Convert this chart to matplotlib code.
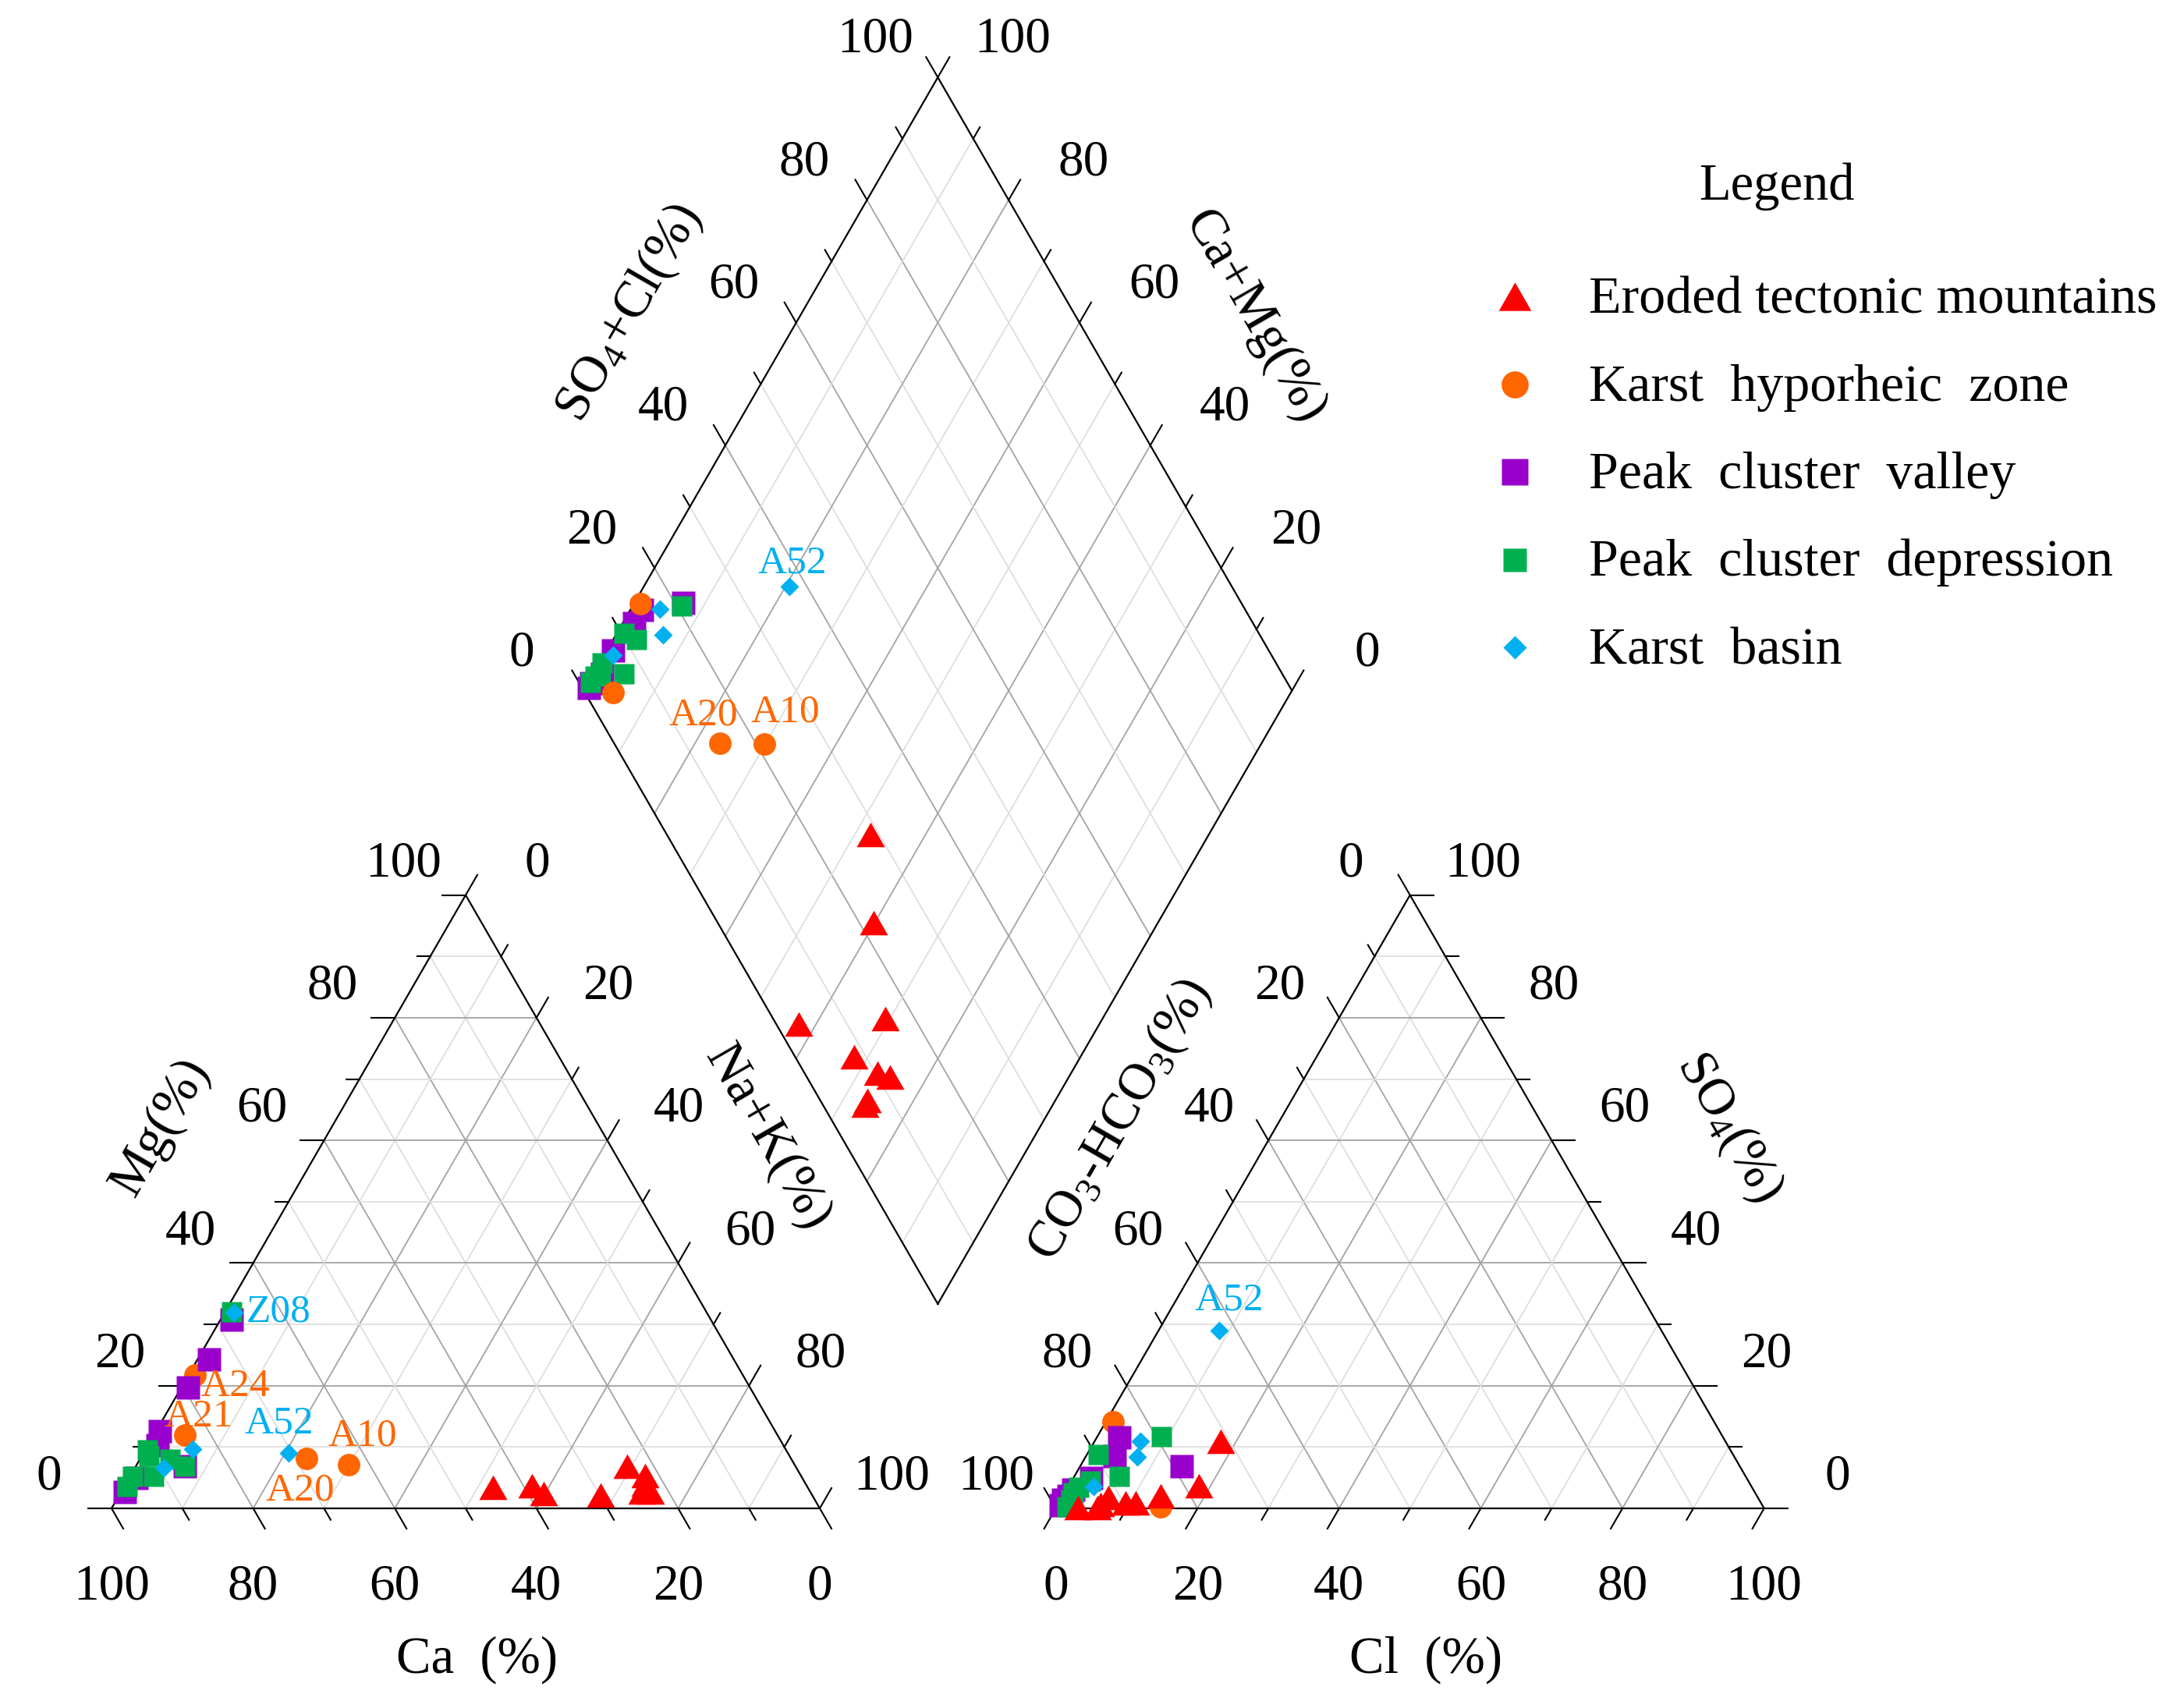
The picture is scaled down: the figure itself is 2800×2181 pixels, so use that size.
import numpy as np
import matplotlib
matplotlib.use("Agg")
import matplotlib.pyplot as plt

plt.rcParams['font.family'] = 'Liberation Serif'
plt.rcParams['mathtext.fontset'] = 'custom'
plt.rcParams['mathtext.rm'] = 'Liberation Serif'
plt.rcParams['mathtext.default'] = 'regular'

# ---- data: % of meq/L (Ca = 100 - Mg - Na+K, HCO3 = 100 - SO4 - Cl) ----
names = ["Eroded tectonic mountains", "Karst  hyporheic  zone", "Peak  cluster  valley",
         "Peak  cluster  depression", "Karst  basin"]

red_mg = [3.4, 2.4, 3.7, 6.9, 2.2, 5.3, 3.9, 2.7, 2.7]
red_na = [52.2, 59.8, 57.5, 69.3, 68.0, 72.7, 73.4, 74.7, 73.5]
red_so4 = [10.9, 3.7, 0.1, 2.0, 1.8, 0.9, 0.6, 0.9, 0.1]
red_cl = [17.8, 18.3, 3.1, 13.8, 6.5, 9.4, 6.0, 10.8, 5.8]

orange_id = ["A24", "A21", "A20", "A10"]
orange_mg = [21.7, 12.0, 8.1, 7.1]
orange_na = [0.9, 4.3, 23.5, 29.9]
orange_so4 = [14.1, 3.0, 0.3, 6.9]
orange_cl = [1.0, 1.0, 14.6, 14.3]

purple_mg = [30.8, 24.3, 19.7, 12.6, 10.3, 2.7, 6.9, 5.0]
purple_na = [1.6, 1.6, 0.9, 0.5, 1.3, 0.5, 6.9, 1.0]
purple_so4 = [11.6, 8.5, 5.0, 1.4, 3.0, 0.5, 6.9, 2.0]
purple_cl = [3.2, 4.1, 2.5, 0.3, 1.0, 0.5, 14.3, 0.8]

green_mg = [6.9, 32.0, 8.5, 5.2, 5.2, 3.5, 8.0, 9.5]
green_na = [6.9, 1.0, 1.0, 3.3, 0.4, 0.5, 4.3, 0.3]
green_so4 = [11.7, 2.5, 8.8, 5.2, 3.4, 1.4, 4.5, 0.2]
green_cl = [9.0, 1.2, 1.6, 6.4, 1.5, 1.4, 2.6, 1.5]

cyan_id = ["Z08", "A52", "", ""]
cyan_mg = [31.9, 9.0, 6.6, 9.7]
cyan_na = [1.3, 20.5, 4.1, 6.6]
cyan_so4 = [3.6, 29.0, 10.9, 8.4]
cyan_cl = [3.5, 8.5, 6.5, 7.3]

ticks = [0, 10, 20, 30, 40, 50, 60, 70, 80, 90, 100]

# ---- geometry (figure pixels) ----
X0, Y0, W = 143, 1934, 908
GAP = 1 / 3
H = np.sqrt(3) / 2


def px(u, v):
    return X0 + W * np.asarray(u, float), Y0 - W * np.asarray(v, float)


def cation_uv(mg, na):
    mg = np.asarray(mg) / 100
    na = np.asarray(na) / 100
    return na + 0.5 * mg, H * mg


def anion_uv(so4, cl):
    so4 = np.asarray(so4) / 100
    cl = np.asarray(cl) / 100
    return 1 + GAP + cl + 0.5 * so4, H * so4


def diamond_uv(na, so4, cl):
    cm = 1 - np.asarray(na) / 100
    s = (np.asarray(so4) + np.asarray(cl)) / 100
    return 1 + GAP / 2 + 0.5 * (s - cm), GAP * H + H * (s + cm)


def lerp(p, q, f):
    return (p[0] + (q[0] - p[0]) * f, p[1] + (q[1] - p[1]) * f)


CA, NA, MG = (0, 0), (1, 0), (0.5, H)
HC, CL, SO = (1 + GAP, 0), (2 + GAP, 0), (1.5 + GAP, H)
B = (1 + GAP / 2, GAP * H)
L = (B[0] - 0.5, B[1] + H)
R = (B[0] + 0.5, B[1] + H)
T = (B[0], B[1] + 2 * H)

fig = plt.figure(figsize=(28, 21.81), dpi=100)
ax = fig.add_axes([0, 0, 1, 1])
ax.set_xlim(0, 2800)
ax.set_ylim(2181, 0)
ax.axis('off')

MAJ, MIN = '#a3a3a3', '#dedede'


def seg(p, q, **kw):
    x, y = px([p[0], q[0]], [p[1], q[1]])
    ax.plot(x, y, **kw)


# grid lines
for t in ticks[1:-1]:
    f = t / 100
    c = MAJ if t % 20 == 0 else MIN
    for P, Q, S in [(CA, NA, MG), (NA, MG, CA), (MG, CA, NA),
                    (HC, CL, SO), (CL, SO, HC), (SO, HC, CL)]:
        seg(lerp(Q, P, f), lerp(S, P, f), color=c, lw=1.3, zorder=1)
    seg(lerp(B, R, f), lerp(L, T, f), color=c, lw=1.3, zorder=1)
    seg(lerp(B, L, f), lerp(R, T, f), color=c, lw=1.3, zorder=1)

# frames
for poly in [[CA, NA, MG, CA], [HC, CL, SO, HC], [B, R, T, L, B]]:
    x, y = px([p[0] for p in poly], [p[1] for p in poly])
    ax.plot(x, y, color='black', lw=1.6, zorder=3)

# axes: (value 0 corner, value 100 corner, outward tick dir, label offset px)
edges = [
    (NA, CA, (0.5, -H), (0, 101)),
    (CA, MG, (-1, 0), (-80, -40)),
    (MG, NA, (0.5, H), (92, -40)),
    (HC, CL, (-0.5, -H), (0, 101)),
    (SO, HC, (-0.5, H), (-76, -40)),
    (CL, SO, (1, 0), (94, -40)),
    (L, T, (-0.5, H), (-80, -48)),
    (R, T, (0.5, H), (96, -48)),
]
for p0, p1, d, off in edges:
    for t in ticks:
        e = lerp(p0, p1, t / 100)
        ln = 30 if t % 20 == 0 else 17
        seg(e, (e[0] + d[0] * ln / W, e[1] + d[1] * ln / W), color='black', lw=1.5, zorder=3)
        if t % 20 == 0:
            ex, ey = px(e[0], e[1])
            ax.text(ex + off[0], ey + off[1], str(t), fontsize=47,
                    ha='center', va='center')

# axis titles
titles = [
    ("Ca  (%)", 612, 2128, 0), ("Cl  (%)", 1828, 2128, 0),
    ("Mg(%)", 206, 1445, 60), ("Na+K(%)", 984, 1458, -60),
    ("CO$_3$-HCO$_3$(%)", 1436, 1436, 60), ("SO$_4$(%)", 2217, 1445, -60),
    ("SO$_4$+Cl(%)", 807, 401, 60), ("Ca+Mg(%)", 1608, 406, -60),
]
for s, x, y, r in titles:
    ax.text(x, y, s, fontsize=48, rotation=r, rotation_mode='anchor',
            ha='center', va='center')

# ---- samples ----
tri = [(-1, -0.875), (1, -0.875), (0, 0.875)]
# draw order per panel: (cation, anion, diamond)
groups = [
    (purple_mg, purple_na, purple_so4, purple_cl, 's', '#9900CC', 21.6, (5, 5, 5)),
    (green_mg, green_na, green_so4, green_cl, 's', '#00B050', 18.7, (6, 6, 6)),
    (orange_mg, orange_na, orange_so4, orange_cl, 'o', '#FF6600', 20.8, (4, 4, 7)),
    (red_mg, red_na, red_so4, red_cl, tri, '#FF0000', 26, (8, 8, 8)),
    (cyan_mg, cyan_na, cyan_so4, cyan_cl, 'D', '#00B0F0', 12.7, (9, 9, 9)),
]
for mg, na, so4, cl, m, c, ms, zs in groups:
    panels = [cation_uv(mg, na), anion_uv(so4, cl), diamond_uv(na, so4, cl)]
    for uv, z in zip(panels, zs):
        x, y = px(*uv)
        ax.plot(x, y, ls='none', marker=m, ms=ms, color=c, mec='none', zorder=z)

# sample labels (offsets in pixels)
lab_off = {
    ('cat', 'Z08'): (57, -1), ('cat', 'A24'): (52, 14), ('cat', 'A21'): (18, -23),
    ('cat', 'A52'): (-12, -38), ('cat', 'A10'): (18, -37), ('cat', 'A20'): (-8, 41),
    ('dia', 'A52'): (4, -30), ('dia', 'A20'): (-21, -36), ('dia', 'A10'): (26, -41),
    ('ani', 'A52'): (13, -39),
}
for ids, mg, na, so4, cl, c in [(orange_id, orange_mg, orange_na, orange_so4, orange_cl, '#FF6600'),
                                (cyan_id, cyan_mg, cyan_na, cyan_so4, cyan_cl, '#00B0F0')]:
    pos = {'cat': px(*cation_uv(mg, na)), 'ani': px(*anion_uv(so4, cl)),
           'dia': px(*diamond_uv(na, so4, cl))}
    for key, (xs, ys) in pos.items():
        for i, sid in enumerate(ids):
            if (key, sid) in lab_off:
                dx, dy = lab_off[(key, sid)]
                ax.text(xs[i] + dx, ys[i] + dy, sid, color=c, fontsize=37,
                        ha='center', va='center', zorder=10)

# ---- legend ----
ax.text(2278, 256, "Legend", fontsize=48, ha='center', va='baseline')
leg_style = [(tri, '#FF0000', 30), ('o', '#FF6600', 25), ('s', '#9900CC', 24),
             ('s', '#00B050', 22), ('D', '#00B0F0', 15.5)]
for i, (name, (m, c, ms)) in enumerate(zip(names, leg_style)):
    y = 380 + i * 112.5
    ax.plot([1942], [y], ls='none', marker=m, ms=ms, color=c, mec='none')
    ax.text(2037, y + 21, name, fontsize=49, ha='left', va='baseline')

fig.savefig("out.png", dpi=100, facecolor='white')
